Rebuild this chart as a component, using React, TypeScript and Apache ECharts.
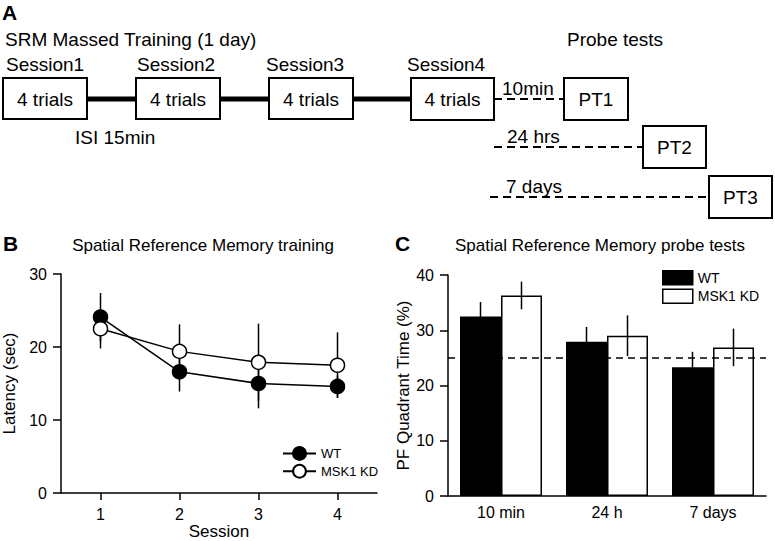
import React, { useEffect, useRef } from "react";
import * as echarts from "echarts";

// ---- Data ----
const sessions = ["1", "2", "3", "4"];
const wtLatency = [24.1, 16.6, 15.0, 14.6];
const wtLatencyErr = [3.3, 2.7, 3.4, 1.5];
const kdLatency = [22.5, 19.4, 17.9, 17.5];
const kdLatencyErr = [2.7, 3.7, 5.3, 4.5];

const probeTests = ["10 min", "24 h", "7 days"];
const wtPF = [32.5, 27.9, 23.3];
const wtPFErr = [2.6, 2.7, 2.8];
const kdPF = [36.3, 29.0, 26.9];
const kdPFErr = [2.5, 3.7, 3.4];
const chanceLevel = 25;

const seriesNames = ["WT", "MSK1 KD"];

// ---- Style ----
const FF = "'Liberation Sans', Arial, Helvetica, sans-serif";
const f = (size: number, bold = false) => `${bold ? "bold " : ""}${size}px ${FF}`;
const BAR_W = 41;

function txt(text: string, x: number, y: number, size: number, align = "left", bold = false) {
  return {
    type: "text",
    silent: true,
    style: { text, x, y, font: f(size, bold), fill: "#000", textAlign: align, textVerticalAlign: "middle" },
  };
}
function box(x: number, y: number, w: number, h: number) {
  return {
    type: "rect",
    silent: true,
    shape: { x, y, width: w, height: h },
    style: { fill: "#fff", stroke: "#000", lineWidth: 2 },
  };
}
function seg(x1: number, y1: number, x2: number, y2: number, w: number, dash?: number[]) {
  return {
    type: "line",
    silent: true,
    shape: { x1, y1, x2, y2 },
    style: { stroke: "#000", lineWidth: w, lineDash: dash || null },
  };
}

export default function App() {
  const ref = useRef<HTMLDivElement>(null);

  useEffect(() => {
    if (!ref.current) return;
    const chart = echarts.init(ref.current, null, { renderer: "svg" });

    const axisLine = { show: true, lineStyle: { color: "#000", width: 1.5 } };
    const axisTick = { show: true, length: 8, lineStyle: { color: "#000", width: 1.5 } };

    const errB: number[][] = [];
    sessions.forEach((_, i) => {
      errB.push([i, wtLatency[i], wtLatencyErr[i]]);
      errB.push([i, kdLatency[i], kdLatencyErr[i]]);
    });
    const errC: number[][] = [];
    probeTests.forEach((_, i) => {
      errC.push([i, wtPF[i], wtPFErr[i], -1]);
      errC.push([i, kdPF[i], kdPFErr[i], 1]);
    });

    const diagram = [
      txt("A", 2, 12, 21, "left", true),
      txt("SRM Massed Training (1 day)", 5, 39, 19),
      txt("Probe tests", 567, 39, 19),
      txt("Session1", 6, 64, 19),
      txt("Session2", 137, 64, 19),
      txt("Session3", 266, 64, 19),
      txt("Session4", 407, 64, 19),
      seg(87, 99, 136, 99, 5),
      seg(220, 99, 269, 99, 5),
      seg(353, 99, 411, 99, 5),
      box(3, 78, 84, 41),
      box(136, 78, 84, 41),
      box(269, 78, 84, 41),
      box(411, 78, 83, 42),
      txt("4 trials", 45, 99, 19, "center"),
      txt("4 trials", 178, 99, 19, "center"),
      txt("4 trials", 311, 99, 19, "center"),
      txt("4 trials", 452.5, 99, 19, "center"),
      txt("ISI 15min", 75, 137, 19),
      seg(494, 99, 563, 99, 2, [8, 5]),
      txt("10min", 502, 88, 19),
      box(564, 78, 64, 42),
      txt("PT1", 596, 99, 19, "center"),
      seg(494, 147, 643, 147, 2, [8, 5]),
      txt("24 hrs", 507, 136, 19),
      box(643, 126, 63, 42),
      txt("PT2", 674.5, 147, 19, "center"),
      seg(490, 197, 709, 197, 2, [8, 5]),
      txt("7 days", 506, 186, 19),
      box(709, 176, 63, 42),
      txt("PT3", 740.5, 197, 19, "center"),
      txt("B", 3, 243, 21, "left", true),
      txt("Spatial Reference Memory training", 203, 245, 17, "center"),
      txt("C", 395, 243, 21, "left", true),
      txt("Spatial Reference Memory probe tests", 600, 245, 17, "center"),
    ];

    const option: any = {
      animation: false,
      backgroundColor: "#fff",
      textStyle: { fontFamily: FF, color: "#000" },
      graphic: { elements: diagram },
      grid: [
        { left: 59, top: 274, width: 318, height: 222 },
        { left: 448, top: 275, width: 318, height: 221 },
      ],
      legend: [
        {
          data: seriesNames,
          orient: "vertical",
          left: 282,
          top: 446,
          padding: 0,
          itemWidth: 33,
          itemHeight: 16,
          itemGap: 3,
          textStyle: { fontSize: 13, color: "#000", fontFamily: FF },
          selectedMode: false,
        },
        {
          data: [
            { name: seriesNames[0], icon: "rect", itemStyle: { color: "#000", borderColor: "#000", borderWidth: 1.5 } },
            { name: seriesNames[1], icon: "rect", itemStyle: { color: "#fff", borderColor: "#000", borderWidth: 1.5 } },
          ],
          orient: "vertical",
          left: 662,
          top: 270,
          padding: 0,
          itemWidth: 30,
          itemHeight: 14,
          itemGap: 3,
          textStyle: { fontSize: 14, color: "#000", fontFamily: FF },
          selectedMode: false,
        },
      ],
      xAxis: [
        {
          type: "category",
          gridIndex: 0,
          data: sessions,
          boundaryGap: true,
          axisLine,
          axisTick: { ...axisTick, length: 7, alignWithLabel: true },
          axisLabel: { fontSize: 16, color: "#000", margin: 13, fontFamily: FF },
          splitLine: { show: false },
          name: "Session",
          nameLocation: "middle",
          nameGap: 30,
          nameTextStyle: { fontSize: 17, color: "#000", fontFamily: FF },
        },
        {
          type: "category",
          gridIndex: 1,
          data: probeTests,
          axisLine,
          axisTick: { show: false },
          axisLabel: { fontSize: 16, color: "#000", margin: 8, fontFamily: FF },
          splitLine: { show: false },
        },
      ],
      yAxis: [
        {
          type: "value",
          gridIndex: 0,
          min: 0,
          max: 30,
          interval: 10,
          axisLine,
          axisTick,
          axisLabel: { fontSize: 16, color: "#000", margin: 14, fontFamily: FF },
          splitLine: { show: false },
          name: "Latency (sec)",
          nameLocation: "middle",
          nameGap: 43,
          nameTextStyle: { fontSize: 17, color: "#000", fontFamily: FF },
        },
        {
          type: "value",
          gridIndex: 1,
          min: 0,
          max: 40,
          interval: 10,
          axisLine,
          axisTick,
          axisLabel: { fontSize: 16, color: "#000", margin: 14, fontFamily: FF },
          splitLine: { show: false },
          name: "PF Quadrant Time (%)",
          nameLocation: "middle",
          nameGap: 34,
          nameTextStyle: { fontSize: 17, color: "#000", fontFamily: FF },
        },
      ],
      series: [
        {
          name: seriesNames[0],
          type: "line",
          xAxisIndex: 0,
          yAxisIndex: 0,
          data: wtLatency,
          symbol: "circle",
          symbolSize: 14,
          itemStyle: { color: "#000", borderColor: "#000", borderWidth: 1.5 },
          lineStyle: { color: "#000", width: 1.5 },
          z: 4,
        },
        {
          name: seriesNames[1],
          type: "line",
          xAxisIndex: 0,
          yAxisIndex: 0,
          data: kdLatency,
          symbol: "circle",
          symbolSize: 14,
          itemStyle: { color: "#fff", borderColor: "#000", borderWidth: 1.5 },
          lineStyle: { color: "#000", width: 1.5 },
          z: 4,
        },
        {
          type: "custom",
          xAxisIndex: 0,
          yAxisIndex: 0,
          data: errB,
          silent: true,
          z: 2,
          renderItem: (_params: any, api: any) => {
            const x = api.value(0);
            const m = api.value(1);
            const e = api.value(2);
            const top = api.coord([x, m + e]);
            const bot = api.coord([x, m - e]);
            return {
              type: "line",
              shape: { x1: top[0], y1: top[1], x2: bot[0], y2: bot[1] },
              style: { stroke: "#000", lineWidth: 1.5 },
            };
          },
        },
        {
          name: seriesNames[0],
          type: "bar",
          xAxisIndex: 1,
          yAxisIndex: 1,
          data: wtPF,
          barWidth: BAR_W,
          barGap: "0%",
          itemStyle: { color: "#000", borderColor: "#000", borderWidth: 1.5 },
          z: 2,
        },
        {
          name: seriesNames[1],
          type: "bar",
          xAxisIndex: 1,
          yAxisIndex: 1,
          data: kdPF,
          barWidth: BAR_W,
          barGap: "0%",
          itemStyle: { color: "#fff", borderColor: "#000", borderWidth: 1.5 },
          z: 2,
          markLine: {
            silent: true,
            symbol: "none",
            label: { show: false },
            lineStyle: { color: "#000", type: [7, 5], width: 1.5 },
            data: [{ yAxis: chanceLevel }],
          },
        },
        {
          type: "custom",
          xAxisIndex: 1,
          yAxisIndex: 1,
          data: errC,
          silent: true,
          z: 5,
          renderItem: (_params: any, api: any) => {
            const x = api.value(0);
            const m = api.value(1);
            const e = api.value(2);
            const side = api.value(3);
            const top = api.coord([x, m + e]);
            const bot = api.coord([x, m - e]);
            const px = top[0] + (side * BAR_W) / 2;
            return {
              type: "line",
              shape: { x1: px, y1: top[1], x2: px, y2: bot[1] },
              style: { stroke: "#000", lineWidth: 1.5 },
            };
          },
        },
      ],
    };

    chart.setOption(option);
    return () => chart.dispose();
  }, []);

  return (
    <div
      ref={ref}
      style={{ position: "absolute", left: 0, top: 0, width: 775, height: 541, background: "#fff" }}
    />
  );
}
